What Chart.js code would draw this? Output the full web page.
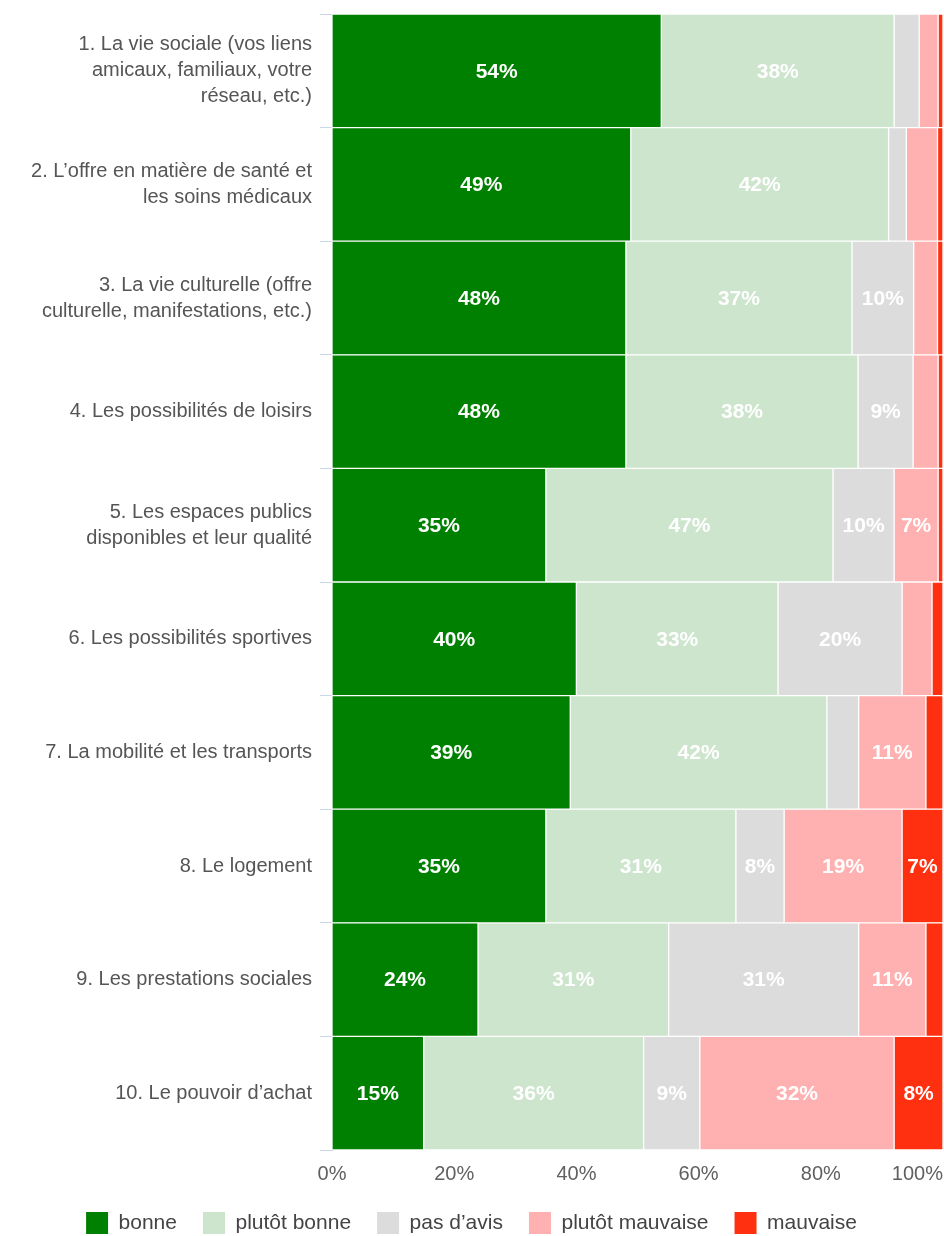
<!DOCTYPE html>
<html>
<head>
<meta charset="utf-8">
<script src="https://cdn.jsdelivr.net/npm/chart.js@4/dist/chart.umd.min.js"></script>
<style>
  html, body { margin: 0; padding: 0; background: #fff; }
  #wrap { width: 944px; height: 1236px; position: relative; }
</style>
</head>
<body>
<div id="wrap"><canvas id="c" width="944" height="1236"></canvas></div>
<script>
const categories = [
  ["1. La vie sociale (vos liens", "amicaux, familiaux, votre", "réseau, etc.)"],
  ["2. L’offre en matière de santé et", "les soins médicaux"],
  ["3. La vie culturelle (offre", "culturelle, manifestations, etc.)"],
  "4. Les possibilités de loisirs",
  ["5. Les espaces publics", "disponibles et leur qualité"],
  "6. Les possibilités sportives",
  "7. La mobilité et les transports",
  "8. Le logement",
  "9. Les prestations sociales",
  "10. Le pouvoir d’achat"
];
const seriesNames = ["bonne", "plutôt bonne", "pas d’avis", "plutôt mauvaise", "mauvaise"];
const bonne          = [53.9, 48.9, 48.1, 48.1, 35.0, 40.0, 39.0, 35.0, 23.9, 15.0];
const plutotBonne    = [38.1, 42.2, 37.0, 38.0, 47.0, 33.0, 42.0, 31.1, 31.2, 36.0];
const pasDAvis       = [4.1, 2.9, 10.1, 9.0, 10.0, 20.3, 5.2, 7.9, 31.1, 9.2];
const plutotMauvaise = [3.1, 5.1, 3.9, 4.1, 7.2, 4.9, 11.0, 19.3, 11.0, 31.8];
const mauvaise       = [0.8, 0.9, 0.9, 0.8, 0.8, 1.8, 2.8, 6.7, 2.8, 8.0];
const xTicks = [0, 20, 40, 60, 80, 100];

const colors = ["#008000", "#cde5cd", "#dcdcdc", "#ffb0b0", "#ff3010"];
const seriesValues = [bonne, plutotBonne, pasDAvis, plutotMauvaise, mauvaise];

const FONT = "'Liberation Sans', Arial, sans-serif";

const datasets = seriesNames.map((name, i) => ({
  label: name,
  data: seriesValues[i],
  backgroundColor: colors[i],
  borderColor: "rgba(255,255,255,0.85)",
  borderWidth: 1,
  borderSkipped: false,
  barPercentage: 1,
  categoryPercentage: 1
}));

const valueLabels = {
  id: "valueLabels",
  afterDatasetsDraw(chart) {
    const ctx = chart.ctx;
    ctx.save();
    ctx.font = "bold 21px " + FONT;
    ctx.fillStyle = "#ffffff";
    ctx.textAlign = "center";
    ctx.textBaseline = "middle";
    chart.data.datasets.forEach((ds, di) => {
      const meta = chart.getDatasetMeta(di);
      meta.data.forEach((el, i) => {
        const v = ds.data[i];
        if (Math.round(v) >= 7) {
          const p = el.getCenterPoint();
          ctx.fillText(Math.round(v) + "%", p.x, p.y + 1);
        }
      });
    });
    ctx.restore();
  }
};

const tickAlignFix = {
  id: "tickAlignFix",
  beforeDraw(chart) {
    const items = chart.scales.x.getLabelItems();
    if (items.length) items[0].options.textAlign = "center";
  }
};

new Chart(document.getElementById("c"), {
  type: "bar",
  data: { labels: categories, datasets },
  plugins: [valueLabels, tickAlignFix],
  options: {
    indexAxis: "y",
    responsive: false,
    animation: false,
    layout: { padding: { top: 14, right: 1, left: 0, bottom: -8 } },
    plugins: {
      tooltip: { enabled: false },
      legend: {
        position: "bottom",
        labels: {
          boxWidth: 22,
          boxHeight: 22,
          padding: 26,
          color: "#444",
          font: { family: FONT, size: 21 },
          generateLabels(chart) {
            return Chart.defaults.plugins.legend.labels.generateLabels(chart).map(l => {
              l.lineWidth = 0;
              l.strokeStyle = l.fillStyle;
              return l;
            });
          }
        }
      }
    },
    scales: {
      x: {
        stacked: true,
        min: 0,
        max: 100,
        afterBuildTicks(scale) { scale.ticks = xTicks.map(v => ({ value: v })); },
        afterFit(scale) {
          scale.height = 36;
          scale.paddingLeft = 0;
          scale.paddingRight = 0;
        },
        ticks: {
          align: "inner",
          padding: 12,
          color: "#606060",
          font: { family: FONT, size: 20 },
          callback: v => v + "%"
        },
        grid: { display: false, drawTicks: false },
        border: { display: false }
      },
      y: {
        stacked: true,
        afterFit(scale) {
          scale.width = 332;
          scale.paddingTop = 0;
          scale.paddingBottom = 0;
        },
        ticks: {
          padding: 8,
          color: "#555",
          font: { family: FONT, size: 20, lineHeight: 1.3 }
        },
        grid: { drawOnChartArea: false, tickLength: 12, color: "#ccd6eb", offset: true },
        border: { color: "#ccd6eb" }
      }
    }
  }
});
</script>
</body>
</html>
